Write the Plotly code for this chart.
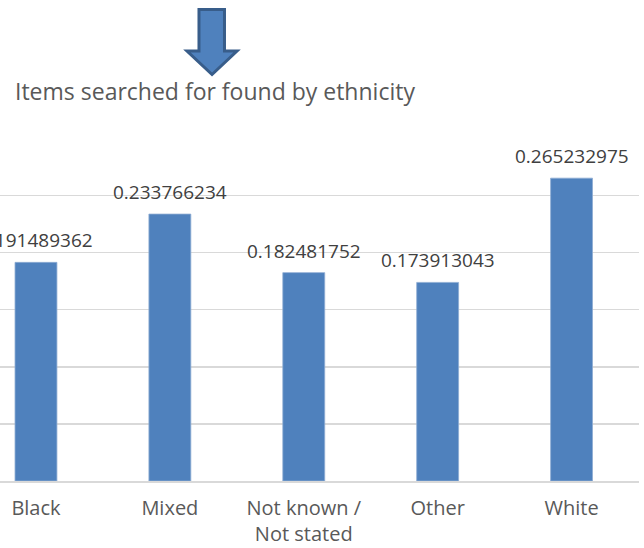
import plotly.graph_objects as go

categories = ["Black", "Mixed", "Not known / Not stated", "Other", "White"]
tick_labels = ["Black", "Mixed", "Not known /<br>Not stated", "Other", "White"]
values = [0.191489362, 0.233766234, 0.182481752, 0.173913043, 0.265232975]
value_labels = ["0.191489362", "0.233766234", "0.182481752", "0.173913043", "0.265232975"]
title_text = "Items searched for found by ethnicity"

FONT = "Open Sans"

fig = go.Figure()
fig.add_trace(go.Bar(
    x=list(range(len(categories))),
    y=values,
    width=0.313,
    marker=dict(color="#4F81BD", line=dict(color="#8EACD3", width=0.8)),
    hoverinfo="skip",
))

for i, (v, lab) in enumerate(zip(values, value_labels)):
    fig.add_annotation(x=i, y=v, xref="x", yref="y", text=lab, showarrow=False,
                       yanchor="bottom", yshift=7,
                       font=dict(family=FONT, size=19, color="#404040"))

W, H = 644, 548
L, R, T, B = 0, 5, 138, 67
pw = W - L - R
ph = H - T - B

def px(x):
    return (x - L) / pw

def py(y):
    return (H - B - y) / ph

# decorative down arrow above the title
pts = [(199, 9.5), (224.5, 9.5), (224.5, 51), (237, 51), (212, 74.5), (187, 51), (199, 51)]
path = "M " + " L ".join(f"{px(a):.4f},{py(b):.4f}" for a, b in pts) + " Z"
fig.add_shape(type="path", path=path, xref="paper", yref="paper",
              fillcolor="#4F81BD", line=dict(color="#385D8A", width=3), layer="above")

fig.add_annotation(x=px(13), y=py(91), xref="paper", yref="paper", text=title_text,
                   showarrow=False, xanchor="left", yanchor="middle",
                   font=dict(family=FONT, size=23, color="#595959"))

fig.update_layout(
    width=W, height=H,
    margin=dict(l=L, r=R, t=T, b=B, autoexpand=False),
    paper_bgcolor="white",
    plot_bgcolor="white",
    showlegend=False,
    xaxis=dict(
        range=[-0.5 + 31 / 134, 4.5 + 0.5 / 134],
        tickmode="array", tickvals=list(range(len(categories))), ticktext=tick_labels,
        tickfont=dict(family=FONT, size=20, color="#595959"),
        ticklabelstandoff=8,
        showgrid=False, zeroline=False, automargin=False,
        showline=True, linecolor="#D9D9D9", linewidth=1.5,
        ticks="", fixedrange=True,
    ),
    yaxis=dict(
        range=[0, 0.3004], dtick=0.05, showticklabels=False, automargin=False,
        showgrid=True, gridcolor="#D9D9D9", gridwidth=1.5,
        zeroline=False, showline=False, ticks="", fixedrange=True,
    ),
)

fig.write_html("out.html", config={"displayModeBar": False, "staticPlot": True},
               post_script="document.body.style.margin='0';document.body.style.overflow='hidden';")
